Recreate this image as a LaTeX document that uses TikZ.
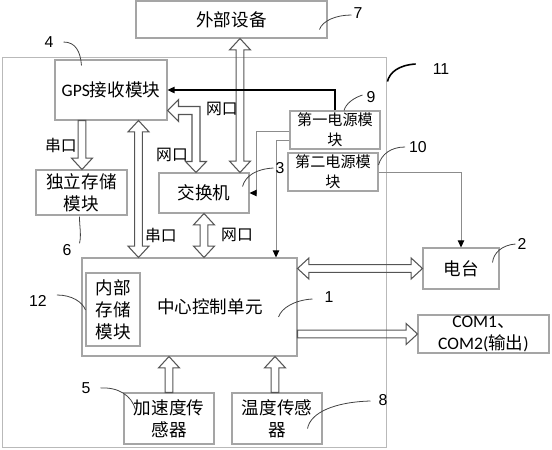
\documentclass[tikz,border=0pt]{standalone}
\usepackage{fontspec}
\setmainfont{Carlito}
\newfontfamily\cjk{Noto Sans CJK SC}
\newfontfamily\numfont{Liberation Sans}
\usepackage{tikz}
\usetikzlibrary{arrows.meta,calc}
\definecolor{boxgray}{RGB}{165,165,165}
\definecolor{framegray}{RGB}{185,185,185}
\definecolor{arrgray}{RGB}{85,85,85}
\def\arrbody{2.2pt} \def\arrhead{6pt} \def\arrlen{6.5pt}

\begin{document}
\begin{tikzpicture}[x=0.02cm,y=-0.02cm,font=\cjk\fontsize{10}{12.5}\selectfont]
\useasboundingbox (0,0) rectangle (552,450);
\tikzset{box/.style={draw=boxgray,line width=0.6pt,inner sep=0pt,align=center}}
\tikzset{num/.style={font=\numfont\fontsize{9}{10}\selectfont,inner sep=1pt}}
\tikzset{port/.style={font=\cjk\fontsize{9}{10}\selectfont,inner sep=0pt}}
\tikzset{lead/.style={draw=black!75,line width=0.45pt}}
\tikzset{pline/.style={draw=black!45,line width=0.5pt,-{Triangle[length=4pt,width=3.6pt,color=black]}}}
\tikzset{hollow/.style={draw=arrgray,line width=0.6pt,line join=miter,to path={
  ($(\tikztostart)!\arrbody!90:(\tikztotarget)$)
  -- ($(\tikztotarget)!\arrlen!(\tikztostart)!\arrbody!-90:(\tikztostart)$)
  -- ($(\tikztotarget)!\arrlen!(\tikztostart)!\arrhead!-90:(\tikztostart)$)
  -- (\tikztotarget)
  -- ($(\tikztotarget)!\arrlen!(\tikztostart)!\arrhead!90:(\tikztostart)$)
  -- ($(\tikztotarget)!\arrlen!(\tikztostart)!\arrbody!90:(\tikztostart)$)
  -- ($(\tikztostart)!\arrbody!-90:(\tikztotarget)$) -- cycle}}}
\tikzset{hollowtwo/.style={draw=arrgray,line width=0.6pt,line join=miter,to path={
  (\tikztostart)
  -- ($(\tikztostart)!\arrlen!(\tikztotarget)!\arrhead!-90:(\tikztostart)$)
  -- ($(\tikztostart)!\arrlen!(\tikztotarget)!\arrbody!-90:(\tikztostart)$)
  -- ($(\tikztotarget)!\arrlen!(\tikztostart)!\arrbody!-90:(\tikztostart)$)
  -- ($(\tikztotarget)!\arrlen!(\tikztostart)!\arrhead!-90:(\tikztostart)$)
  -- (\tikztotarget)
  -- ($(\tikztotarget)!\arrlen!(\tikztostart)!\arrhead!90:(\tikztostart)$)
  -- ($(\tikztotarget)!\arrlen!(\tikztostart)!\arrbody!90:(\tikztostart)$)
  -- ($(\tikztostart)!\arrlen!(\tikztotarget)!\arrbody!90:(\tikztostart)$)
  -- ($(\tikztostart)!\arrlen!(\tikztotarget)!\arrhead!90:(\tikztostart)$)
  -- cycle}}}
% boxes
\node[box,draw=framegray,minimum width=7.7cm,minimum height=7.82cm] (frame) at (194.5,252.5) {};
\node[box,minimum width=3.82cm,minimum height=0.74cm] (ext) at (231.5,19.5) {外部设备};
\node[box,minimum width=2.24cm,minimum height=1.2cm] (gps) at (111,90) {{\rmfamily GPS}接收模块};
\node[box,minimum width=1.82cm,minimum height=0.9cm] (store) at (81.5,192.5) {独立存储\\模块};
\node[box,minimum width=1.8cm,minimum height=0.8cm] (switch) at (204,193) {交换机};
\node[box,minimum width=1.8cm,minimum height=0.76cm,font=\cjk\fontsize{8.6}{11.4}\selectfont] (pw1) at (335,130) {第一电源模\\块};
\node[box,minimum width=1.8cm,minimum height=0.76cm,font=\cjk\fontsize{8.6}{11.4}\selectfont] (pw2) at (333,172) {第二电源模\\块};
\node[box,minimum width=4.3cm,minimum height=1.96cm] (ccu) at (189.5,307) {};
\node (ccutxt) at (210,307) {中心控制单元};
\node[box,minimum width=1.08cm,minimum height=1.46cm] (mem) at (113,309.5) {内部\\存储\\模块};
\node[box,minimum width=1.52cm,minimum height=0.82cm] (radio) at (461,268.5) {电台};
\node[box,minimum width=2.62cm,minimum height=0.76cm] (com) at (483.5,334) {{\rmfamily COM1}、\\{\rmfamily COM2(}输出{\rmfamily )}};
\node[box,minimum width=1.8cm,minimum height=1.02cm] (acc) at (169,418.5) {加速度传\\感器};
\node[box,minimum width=1.8cm,minimum height=1.02cm] (temp) at (277,418.5) {温度传感\\器};
% hollow arrows
\draw[hollowtwo] (ext.south -| 240,0) to (switch.north -| 240,0);
\draw[hollow] (gps.south -| 82,0) to (store.north -| 82,0);
\draw[hollowtwo] (gps.south -| 138.5,0) to (ccu.north -| 138.5,0);
\draw[hollowtwo] (switch.south) to (ccu.north -| switch.south);
\draw[hollowtwo] (ccu.east |- radio.west) to (radio.west);
\draw[hollow] (ccu.east |- com.west) to (com.west);
\draw[hollow] (acc.north) to (ccu.south -| acc.north);
\draw[hollow] (temp.north -| 275,0) to (ccu.south -| 275,0);
% gps <-> switch, bent
\coordinate (gsA) at (gps.east |- 0,110.5);
\coordinate (gsB) at (switch.north -| 196,0);
\draw[draw=arrgray,line width=0.6pt,line join=miter] (gsA) -- ($(gsA)+(11,-11)$) -- ($(gsA)+(11,-4)$)
  -- ($(gsA -| gsB)+(4,-4)$) -- ($(gsB)+(4,-11)$) -- ($(gsB)+(10.5,-11)$) -- (gsB)
  -- ($(gsB)+(-10.5,-11)$) -- ($(gsB)+(-4,-11)$) -- ($(gsA -| gsB)+(-4,4)$)
  -- ($(gsA)+(11,4)$) -- ($(gsA)+(11,11)$) -- cycle;
% port labels
\node[port] (p1) at (61,145) {串口};
\node[port] (p2) at (222,109) {网口};
\node[port] (p3) at (172,155) {网口};
\node[port] (p4) at (161,235) {串口};
\node[port] (p5) at (237,235) {网口};
% power lines
\draw[pline,draw=black,line width=0.8pt] (pw1.north) |- (gps.east);
\draw[pline] (pw1.west |- 0,131) -- ++(-33,0) |- (switch.east);
\draw[pline] (pw1.west |- 0,140) -| (ccu.north -| 276,0);
\draw[pline] (pw2.east) -| (radio.north);
% reference numbers
\node[num] (n7) at (358,13) {7};
\node[num] (n4) at (49,42) {4};
\node[num] (n6) at (67,250) {6};
\node[num] (n3) at (280,168) {3};
\node[num] (n9) at (371,97) {9};
\node[num] (n10) at (418,147) {10};
\node[num] (n11) at (441,69) {11};
\node[num] (n12) at (38,301) {12};
\node[num] (n1) at (329,297) {1};
\node[num] (n2) at (522,244) {2};
\node[num] (n5) at (86,388) {5};
\node[num] (n8) at (383,400) {8};
\draw[lead] ($(n7.west)+(0,2)$) .. controls +(-15,0) and +(3,-9) .. ($(ext.south east)+(-8,-9)$);
\draw[lead] ($(n4.east)+(8,0)$) .. controls +(12,0) and +(-1,-14) .. ($(gps.north west)+(27,6)$);
\draw[lead] ($(n6.north east)+(6,1)$) .. controls +(2,-8) and +(0,10) .. ($(store.south west)+(44,1)$);
\draw[lead] (n3.west) .. controls +(-17,1) and +(3,-11) .. ($(switch.north east)+(-7,14)$);
\draw[lead] ($(n9.west)+(-2,-2)$) .. controls +(-9,3) and +(2,-7) .. ($(pw1.north)+(9,0)$);
\draw[lead] ($(n10.west)+(-2,0)$) .. controls +(-14,0) and +(3,-11) .. ($(pw2.east)+(0,-7)$);
\draw[lead,draw=black,line width=0.9pt] ($(n11.west)+(-15,-5)$) .. controls +(-17,1) and +(2,-9) .. ($(frame.north east)+(0,25)$);
\draw[lead] ($(n12.east)+(8,-6)$) .. controls +(15,0) and +(-3,-8) .. ($(mem.west)+(0,0.5)$);
\draw[lead] ($(n1.west)+(-10,2)$) .. controls +(-18,1) and +(3,-9) .. ($(ccu.east)+(-19,10)$);
\draw[lead] (n2.west) .. controls +(-13,1) and +(1,-10) .. ($(radio.north east)+(-7,15)$);
\draw[lead] ($(n5.east)+(8,0)$) .. controls +(18,-1) and +(-4,-14) .. ($(acc.north west)+(12,17)$);
\draw[lead] ($(n8.west)+(-6,1)$) .. controls +(-36,1) and +(3,-16) .. ($(temp.south east)+(-15,-16)$);
\end{tikzpicture}
\end{document}
